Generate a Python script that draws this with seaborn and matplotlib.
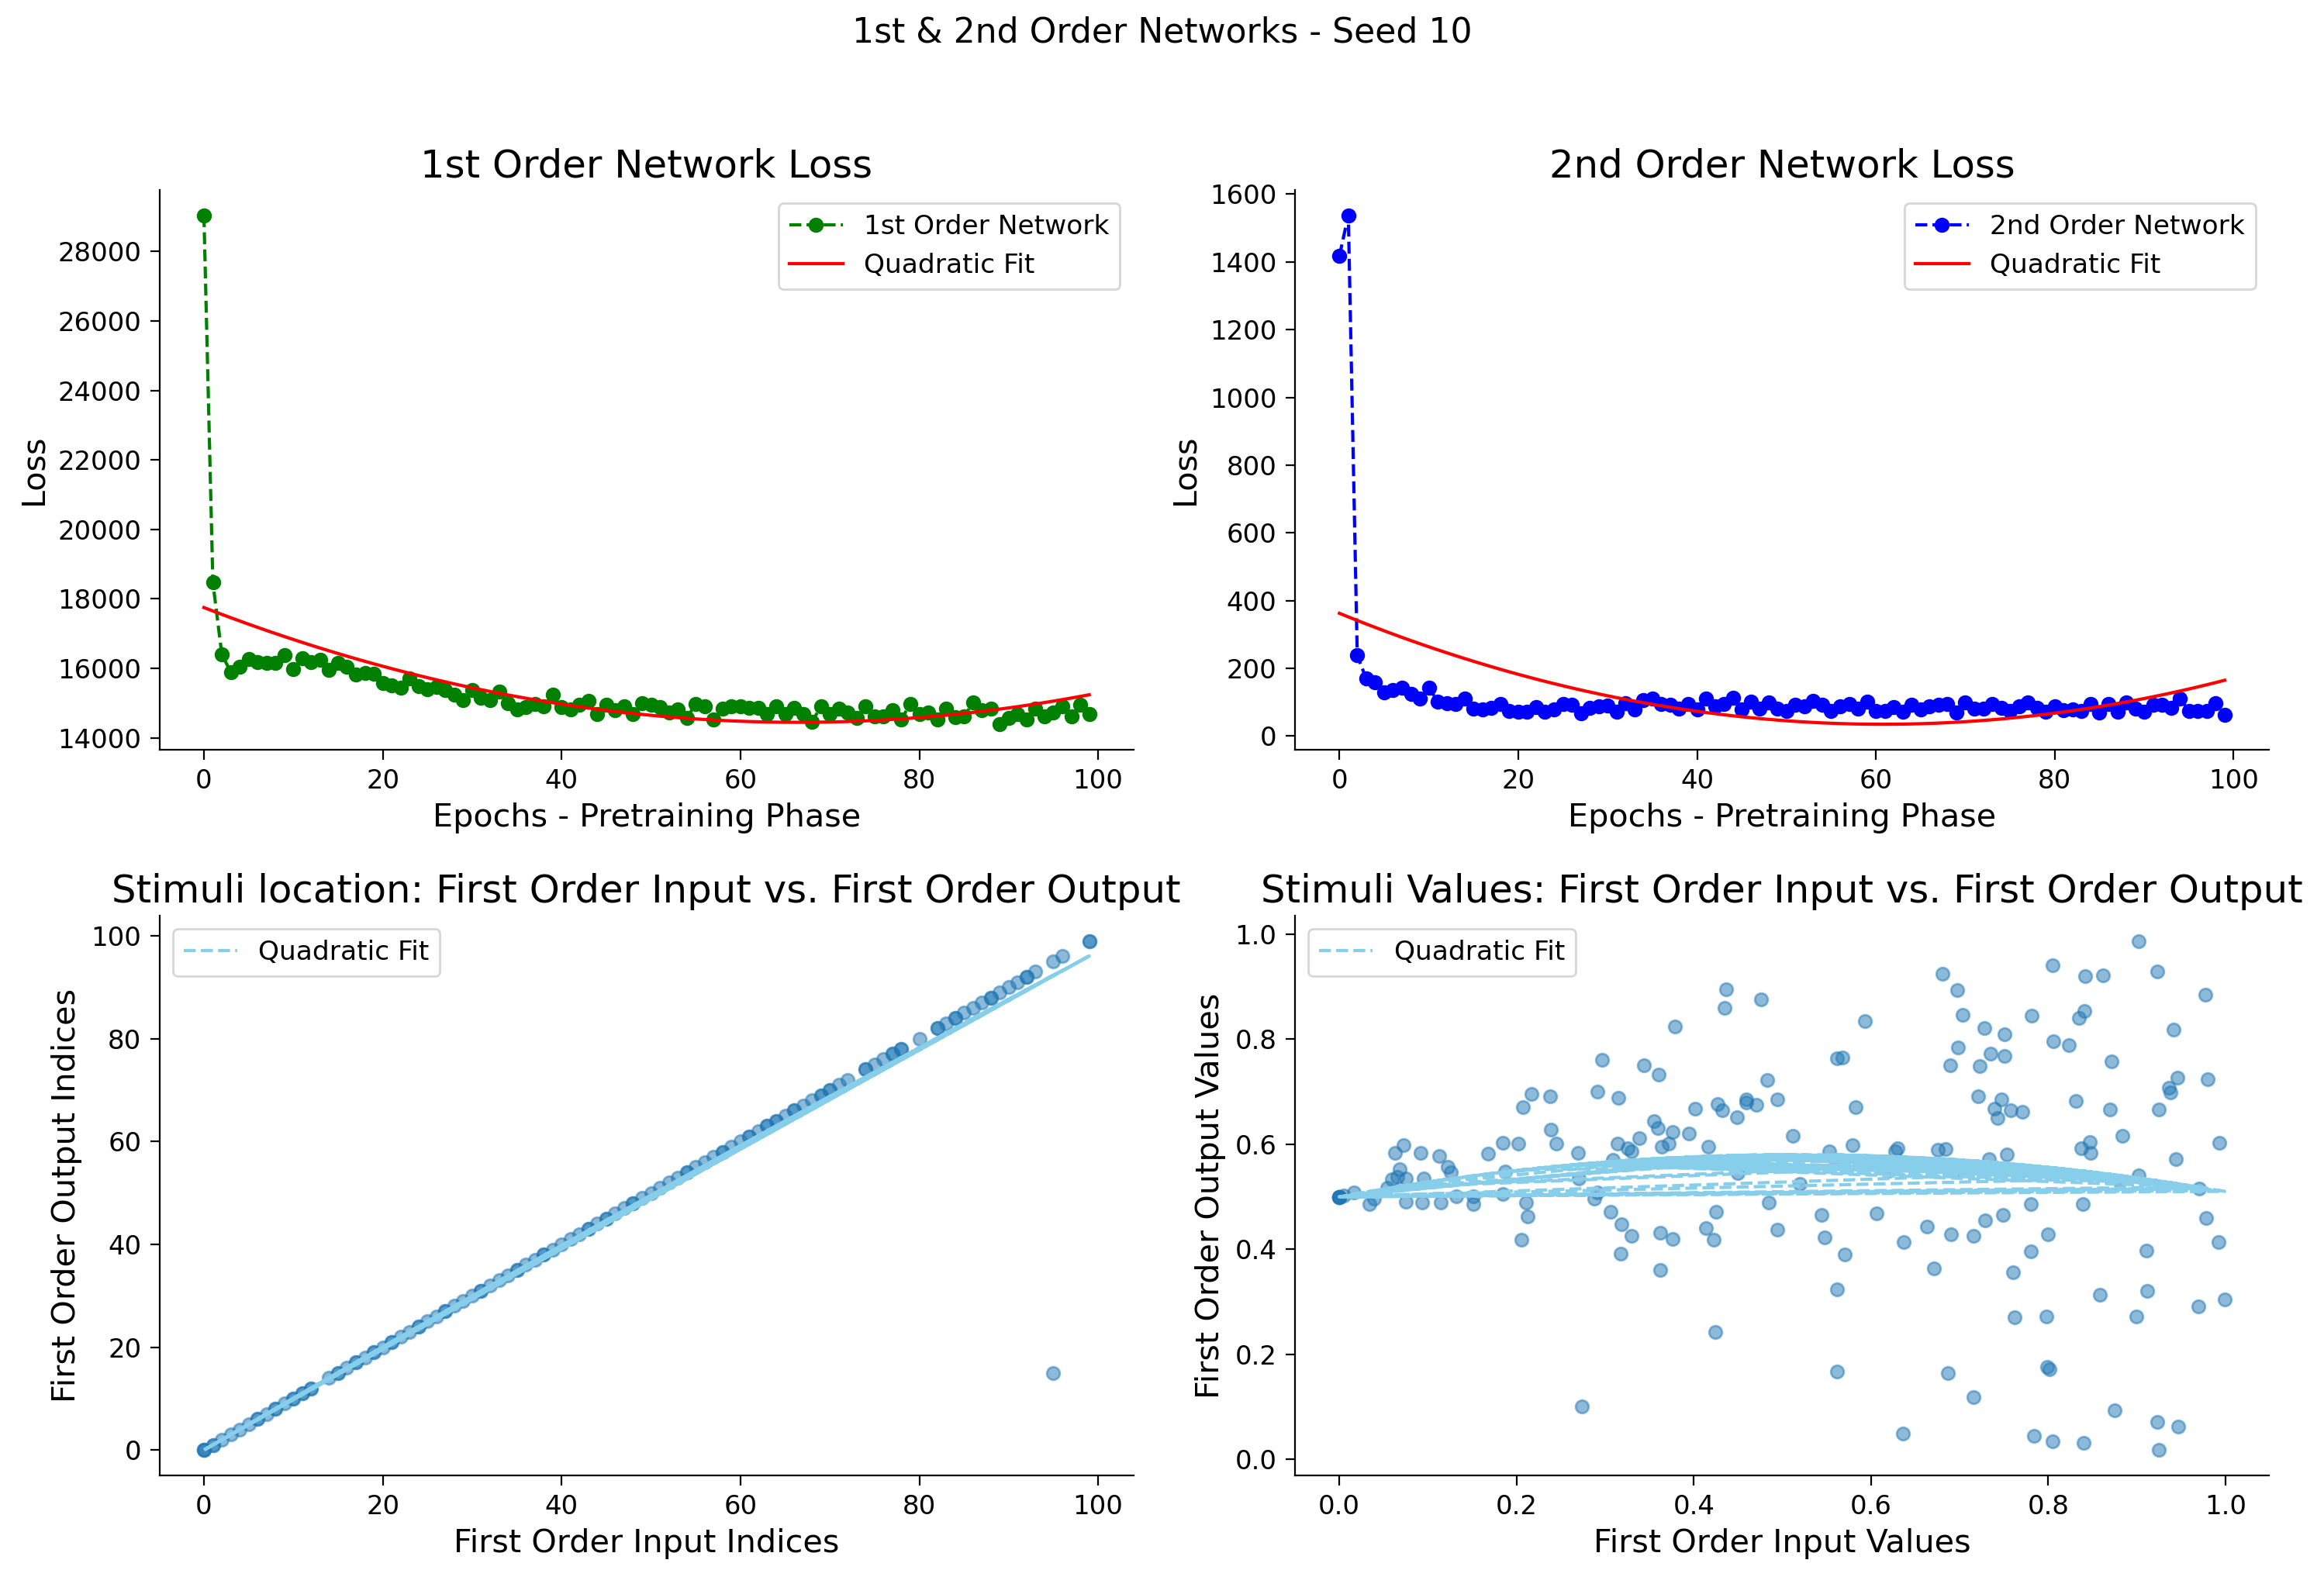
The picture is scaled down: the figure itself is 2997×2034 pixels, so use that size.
import numpy as np
import matplotlib
matplotlib.use("Agg")
import matplotlib.pyplot as plt
import seaborn as sns

# ---------------- data ----------------
epochs = list(range(100))

loss_first = [29048, 18478, 16405, 15892, 16050, 16260, 16175, 16150, 16165, 16370,
              15980, 16290, 16180, 16235, 15960, 16155, 16035, 15818, 15858, 15835,
              15585, 15510, 15442, 15705, 15487, 15386, 15455, 15375, 15248, 15088,
              15378, 15151, 15088, 15322, 14990, 14826, 14889, 14980, 14916, 15232,
              14873, 14815, 14952, 15071, 14672, 14952, 14797, 14916, 14672, 15005,
              14960, 14884, 14719, 14810, 14572, 14976, 14902, 14536, 14829, 14902,
              14902, 14866, 14866, 14682, 14902, 14682, 14866, 14682, 14462, 14902,
              14682, 14829, 14719, 14572, 14902, 14609, 14609, 14792, 14536, 14976,
              14682, 14719, 14536, 14829, 14587, 14609, 15012, 14792, 14829, 14389,
              14572, 14682, 14536, 14829, 14609, 14719, 14902, 14609, 14939, 14682]

loss_second = [1417, 1538, 238, 170, 160, 129, 137, 144, 125, 112,
               144, 102, 98, 96, 111, 80, 78, 83, 95, 75,
               73, 73, 86, 73, 78, 96, 92, 68, 83, 87,
               91, 73, 97, 78, 106, 111, 96, 92, 82, 96,
               78, 110, 88, 96, 113, 79, 101, 80, 99, 82,
               75, 92, 88, 103, 93, 75, 88, 95, 80, 101,
               75, 75, 86, 73, 93, 78, 88, 92, 95, 69,
               99, 80, 80, 95, 84, 75, 88, 99, 84, 73,
               88, 76, 78, 75, 95, 69, 95, 73, 99, 80,
               73, 92, 92, 84, 111, 75, 75, 75, 98, 63]

# stimuli location (argmax indices), in recorded order
loc_input = [0, 50, 25, 75, 0, 51, 26, 76, 0, 52, 27, 77, 1, 53, 27, 77,
             1, 54, 28, 78, 2, 54, 29, 78, 3, 55, 30, 80, 4, 56, 31, 82,
             5, 57, 31, 82, 6, 58, 32, 83, 6, 58, 33, 84, 7, 59, 34, 84,
             8, 60, 35, 85, 8, 61, 35, 86, 9, 61, 36, 87, 10, 62, 37, 88,
             10, 63, 38, 88, 11, 63, 38, 89, 11, 64, 39, 90, 12, 64, 40, 91,
             12, 65, 41, 92, 14, 66, 42, 92, 15, 66, 43, 93, 15, 67, 43, 95,
             16, 68, 44, 95, 17, 69, 45, 96, 17, 69, 45, 99, 18, 70, 46, 99,
             19, 70, 47, 19, 71, 48, 20, 72, 48, 21, 74, 49, 21, 74, 22, 23, 24, 24]
loc_output = [0, 50, 25, 75, 0, 51, 26, 76, 0, 52, 27, 77, 1, 53, 27, 77,
              1, 54, 28, 78, 2, 54, 29, 78, 3, 55, 30, 80, 4, 56, 31, 82,
              5, 57, 31, 82, 6, 58, 32, 83, 6, 58, 33, 84, 7, 59, 34, 84,
              8, 60, 35, 85, 8, 61, 35, 86, 9, 61, 36, 87, 10, 62, 37, 88,
              10, 63, 38, 88, 11, 63, 38, 89, 11, 64, 39, 90, 12, 64, 40, 91,
              12, 65, 41, 92, 14, 66, 42, 92, 15, 66, 43, 93, 15, 67, 43, 15,
              16, 68, 44, 95, 17, 69, 45, 96, 17, 69, 45, 99, 18, 70, 46, 99,
              19, 70, 47, 19, 71, 48, 20, 72, 48, 21, 74, 49, 21, 74, 22, 23, 24, 24]
# quadratic fit coefficients (a*x^2 + b*x + c)
loc_fit_coef = [-0.0004, 1.010, 0.0]

# stimuli values, in recorded order
val_input = [0.902, 0.805, 0.681, 0.842, 0.862, 0.923, 0.436, 0.697, 0.977, 0.000,
             0.476, 0.435, 0.841, 0.835, 0.781, 0.703, 0.593, 0.379, 0.728, 0.751,
             0.941, 0.806, 0.823, 0.698, 0.735, 0.751, 0.562, 0.568, 0.296, 0.871,
             0.344, 0.689, 0.723, 0.360, 0.946, 0.980, 0.000, 0.483, 0.936, 0.938,
             0.291, 0.217, 0.238, 0.315, 0.721, 0.831, 0.427, 0.459, 0.459, 0.494,
             0.747, 0.207, 0.401, 0.432, 0.471, 0.583, 0.739, 0.758, 0.771, 0.870,
             0.925, 0.449, 0.743, 0.355, 0.239, 0.359, 0.376, 0.394, 0.512, 0.884,
             0.338, 0.372, 0.364, 0.314, 0.325, 0.330, 0.184, 0.202, 0.245, 0.072,
             0.416, 0.579, 0.993, 0.000, 0.847, 0.837, 0.848, 0.630, 0.627, 0.675,
             0.684, 0.553, 0.753, 0.063, 0.092, 0.113, 0.168, 0.269, 0.944, 0.733,
             0.068, 0.122, 0.126, 0.059, 0.065, 0.075, 0.095, 0.187, 0.309, 0.902,
             0.005, 0.054, 0.560, 0.620, 0.450, 0.700, 0.880, 0.270, 0.970, 0.520,
             0.016, 0.039, 0.034, 0.075, 0.093, 0.114, 0.132, 0.151, 0.151, 0.184,
             0.211, 0.212, 0.205, 0.288, 0.291, 0.306, 0.318, 0.330, 0.317, 0.362,
             0.376, 0.362, 0.425, 0.414, 0.422, 0.424, 0.274, 0.485, 0.494, 0.544,
             0.548, 0.570, 0.562, 0.562, 0.606, 0.637, 0.636, 0.663, 0.671, 0.690,
             0.687, 0.716, 0.729, 0.749, 0.716, 0.760, 0.762, 0.780, 0.780, 0.800,
             0.798, 0.799, 0.801, 0.784, 0.805, 0.839, 0.858, 0.840, 0.875, 0.899,
             0.911, 0.912, 0.923, 0.925, 0.947, 0.969, 0.000, 0.978, 0.992, 0.999,
             0.000]
val_output = [0.987, 0.940, 0.925, 0.920, 0.921, 0.929, 0.895, 0.893, 0.884, 0.500,
              0.876, 0.860, 0.853, 0.840, 0.845, 0.846, 0.835, 0.824, 0.821, 0.810,
              0.818, 0.796, 0.788, 0.784, 0.773, 0.768, 0.764, 0.765, 0.761, 0.758,
              0.750, 0.750, 0.749, 0.732, 0.727, 0.724, 0.500, 0.722, 0.707, 0.698,
              0.700, 0.696, 0.691, 0.688, 0.691, 0.683, 0.677, 0.685, 0.679, 0.685,
              0.685, 0.670, 0.667, 0.664, 0.675, 0.671, 0.667, 0.665, 0.661, 0.666,
              0.666, 0.652, 0.650, 0.644, 0.628, 0.630, 0.624, 0.620, 0.616, 0.616,
              0.611, 0.601, 0.595, 0.601, 0.592, 0.587, 0.603, 0.601, 0.601, 0.598,
              0.596, 0.598, 0.603, 0.500, 0.604, 0.593, 0.583, 0.593, 0.586, 0.589,
              0.591, 0.586, 0.580, 0.584, 0.583, 0.578, 0.582, 0.583, 0.571, 0.572,
              0.553, 0.557, 0.546, 0.533, 0.538, 0.535, 0.535, 0.548, 0.570, 0.540,
              0.502, 0.517, 0.570, 0.550, 0.545, 0.550, 0.530, 0.535, 0.515, 0.525,
              0.508, 0.497, 0.486, 0.491, 0.489, 0.489, 0.501, 0.501, 0.486, 0.505,
              0.489, 0.463, 0.418, 0.496, 0.508, 0.472, 0.448, 0.426, 0.392, 0.431,
              0.419, 0.360, 0.472, 0.441, 0.418, 0.243, 0.101, 0.489, 0.438, 0.465,
              0.423, 0.390, 0.324, 0.167, 0.468, 0.414, 0.049, 0.443, 0.363, 0.429,
              0.164, 0.425, 0.455, 0.465, 0.119, 0.356, 0.270, 0.486, 0.396, 0.429,
              0.272, 0.176, 0.172, 0.045, 0.034, 0.486, 0.313, 0.031, 0.094, 0.272,
              0.398, 0.321, 0.072, 0.018, 0.062, 0.291, 0.500, 0.459, 0.414, 0.305,
              0.500]
# quadratic fit coefficients (a*x^2 + b*x + c)
val_fit_coef = [-0.300, 0.310, 0.500]

# ---------------- style ----------------
plt.rcParams.update({
    "font.family": ["DejaVu Sans"],
    "xtick.labelsize": 12.2,
    "ytick.labelsize": 12.2,
    "xtick.major.size": 4.5,
    "ytick.major.size": 4.5,
    "xtick.major.pad": 4.0,
    "ytick.major.pad": 4.0,
    "axes.labelsize": 14.9,
    "axes.titlesize": 17.9,
    "legend.fontsize": 12.4,
})

fig, axes = plt.subplots(2, 2, figsize=(2997 / 200, 2034 / 200), dpi=200)
fig.subplots_adjust(left=0.0687, right=0.9763, bottom=0.0644, top=0.8797,
                    wspace=0.166, hspace=0.296)

# ---- 1st order loss ----
ax = axes[0, 0]
sns.lineplot(x=epochs, y=loss_first, ax=ax, color="green", linestyle="--",
             marker="o", markersize=6, markeredgecolor="green",
             markeredgewidth=1, label="1st Order Network")
c1 = np.polyfit(epochs, loss_first, 2)
sns.lineplot(x=epochs, y=np.polyval(c1, epochs), ax=ax, color="red",
             linewidth=1.5, label="Quadratic Fit")
ax.set_title("1st Order Network Loss")
ax.set_xlabel("Epochs - Pretraining Phase")
ax.set_ylabel("Loss")
ax.legend(loc="upper right")

# ---- 2nd order loss ----
ax = axes[0, 1]
sns.lineplot(x=epochs, y=loss_second, ax=ax, color="blue", linestyle="--",
             marker="o", markersize=6, markeredgecolor="blue",
             markeredgewidth=1, label="2nd Order Network")
c2 = np.polyfit(epochs, loss_second, 2)
sns.lineplot(x=epochs, y=np.polyval(c2, epochs), ax=ax, color="red",
             linewidth=1.5, label="Quadratic Fit")
ax.set_title("2nd Order Network Loss")
ax.set_xlabel("Epochs - Pretraining Phase")
ax.set_ylabel("Loss")
ax.legend(loc="upper right")

# ---- stimuli location ----
ax = axes[1, 0]
sns.scatterplot(x=loc_input, y=loc_output, ax=ax, color="#1f77b4", alpha=0.5,
                edgecolor="#1f77b4", linewidth=1.0, s=36)
sns.lineplot(x=loc_input, y=np.polyval(loc_fit_coef, loc_input), ax=ax, sort=False,
             estimator=None, color="skyblue", linestyle="--", linewidth=1.5,
             label="Quadratic Fit")
ax.set_title("Stimuli location: First Order Input vs. First Order Output")
ax.set_xlabel("First Order Input Indices")
ax.set_ylabel("First Order Output Indices")
ax.legend(loc="upper left")

# ---- stimuli values ----
ax = axes[1, 1]
sns.scatterplot(x=val_input, y=val_output, ax=ax, color="#1f77b4", alpha=0.5,
                edgecolor="#1f77b4", linewidth=1.0, s=36)
sns.lineplot(x=val_input, y=np.polyval(val_fit_coef, val_input), ax=ax, sort=False,
             estimator=None, color="skyblue", linestyle="--", linewidth=1.5,
             label="Quadratic Fit")
ax.set_title("Stimuli Values: First Order Input vs. First Order Output")
ax.set_xlabel("First Order Input Values")
ax.set_ylabel("First Order Output Values")
ax.legend(loc="upper left")

sns.despine(fig=fig)
fig.suptitle("1st & 2nd Order Networks - Seed 10", fontsize=15.9, y=0.99, va="top")

fig.savefig("out.png", dpi=200)
